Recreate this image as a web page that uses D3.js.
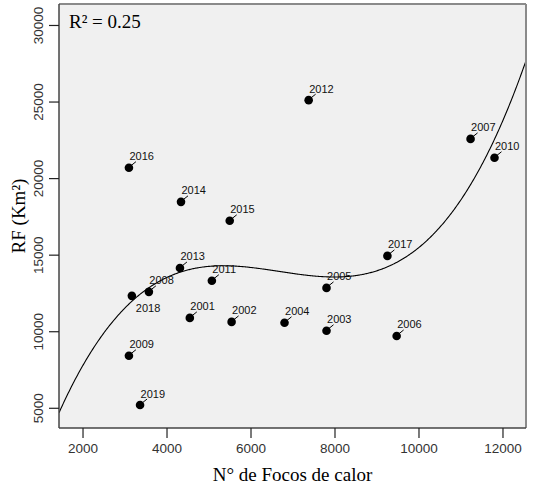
<!DOCTYPE html>
<html><head><meta charset="utf-8">
<script src="https://cdn.jsdelivr.net/npm/d3@7"></script>
<style>body{margin:0;background:#fff;}</style>
</head><body>
<svg id="c" width="536" height="489"></svg>
<script>
const years = ["2001","2002","2003","2004","2005","2006","2007","2008","2009","2010","2011","2012","2013","2014","2015","2016","2017","2018","2019"];
const focos = [4555, 5550, 7810, 6810, 7810, 9480, 11240, 3580, 3105, 11810, 5080, 7385, 4320, 4345, 5505, 3105, 9260, 3175, 3370];
const rf    = [10870, 10610, 10030, 10550, 12830, 9690, 22560, 12570, 8400, 21330, 13300, 25090, 14130, 18450, 17210, 20680, 14920, 12310, 5180];
const xTicks = [2000, 4000, 6000, 8000, 10000, 12000];
const yTicks = [5000, 10000, 15000, 20000, 25000, 30000];
const r2Label = "R\u00b2 = 0.25";
const xTitle = "N\u00b0 de Focos de calor";
const yTitle = "RF (Km\u00b2)";
const belowLabels = ["2018"];

const L = 59, R = 526, T = 4, B = 428;
const x = d3.scaleLinear().domain([1440, 12560]).range([L, R]);
const y = d3.scaleLinear().domain([3680, 31370]).range([B, T]);
const svg = d3.select("#c");

svg.append("rect").attr("x", L).attr("y", T).attr("width", R - L).attr("height", B - T).attr("fill", "#f0f0f0");

// cubic least squares fit from the data
function cubicFit(xs, ys) {
  const c = 6000, s = 1000, n = 4;
  const A = Array.from({length: n}, () => new Array(n + 1).fill(0));
  xs.forEach((xv, i) => {
    const t = (xv - c) / s;
    const p = [1, t, t * t, t * t * t];
    for (let a = 0; a < n; a++) {
      for (let b = 0; b < n; b++) A[a][b] += p[a] * p[b];
      A[a][n] += p[a] * ys[i];
    }
  });
  for (let i = 0; i < n; i++) {
    let m = i;
    for (let k = i + 1; k < n; k++) if (Math.abs(A[k][i]) > Math.abs(A[m][i])) m = k;
    [A[i], A[m]] = [A[m], A[i]];
    for (let k = 0; k < n; k++) if (k !== i) {
      const f = A[k][i] / A[i][i];
      for (let j = i; j <= n; j++) A[k][j] -= f * A[i][j];
    }
  }
  const co = A.map((row, i) => row[n] / row[i]);
  return xv => { const t = (xv - c) / s; return co[0] + co[1] * t + co[2] * t * t + co[3] * t * t * t; };
}
const fit = cubicFit(focos, rf);
const curveX = d3.range(x.domain()[0], x.domain()[1] + 1, 20);

svg.append("clipPath").attr("id", "clip").append("rect")
  .attr("x", L).attr("y", T).attr("width", R - L).attr("height", B - T);
svg.append("path")
  .attr("clip-path", "url(#clip)")
  .attr("d", d3.line().x(d => x(d)).y(d => y(fit(d)))(curveX))
  .attr("fill", "none").attr("stroke", "#000").attr("stroke-width", 1.1);

// frame
svg.append("line").attr("x1", L).attr("x2", R).attr("y1", T).attr("y2", T).attr("stroke", "#8a8a8a").attr("stroke-width", 2);
svg.append("line").attr("x1", R).attr("x2", R).attr("y1", T).attr("y2", B).attr("stroke", "#8a8a8a").attr("stroke-width", 2);

// axes
const xAxis = svg.append("g").attr("transform", `translate(0,${B})`)
  .call(d3.axisBottom(x).tickValues(xTicks).tickSize(10).tickSizeOuter(0).tickFormat(d3.format("d")));
const yAxis = svg.append("g").attr("transform", `translate(${L},0)`)
  .call(d3.axisLeft(y).tickValues(yTicks).tickSize(10).tickSizeOuter(0).tickFormat(d3.format("d")));
[xAxis, yAxis].forEach(g => {
  g.select(".domain").attr("stroke", "#444").attr("stroke-width", 1.5);
  g.selectAll(".tick line").attr("stroke", "#222").attr("stroke-width", 1.2);
  g.selectAll("text").attr("font-family", "Liberation Sans, Arial, sans-serif").attr("font-size", 13.5).attr("fill", "#333");
});
xAxis.selectAll(".domain").attr("d", `M${L},0H${R}`);
yAxis.selectAll(".domain").attr("d", `M0,${B}V${T}`);
xAxis.selectAll(".tick text").attr("y", 15).attr("dy", "0.71em");
yAxis.selectAll(".tick text")
  .attr("transform", "rotate(-90)")
  .attr("x", 0).attr("y", -16).attr("dy", 0)
  .attr("text-anchor", "middle");

// points
const pts = years.map((yr, i) => ({yr, fx: focos[i], ry: rf[i]}));
const g = svg.append("g");
pts.forEach(p => {
  const px = x(p.fx), py = y(p.ry);
  const below = belowLabels.includes(p.yr);
  if (!below) {
    g.append("line").attr("x1", px + 2).attr("y1", py - 2).attr("x2", px + 7).attr("y2", py - 6)
      .attr("stroke", "#000").attr("stroke-width", 1);
  }
  g.append("circle").attr("cx", px).attr("cy", py).attr("r", 4.3).attr("fill", "#000");
  g.append("text")
    .attr("x", below ? px + 4 : px + 0.5)
    .attr("y", below ? py + 16 : py - 7.5)
    .attr("font-family", "Liberation Sans, Arial, sans-serif")
    .attr("font-size", 11).attr("fill", "#111")
    .text(p.yr);
});

svg.append("text").attr("x", 69).attr("y", 28)
  .attr("font-family", "Liberation Serif, Times New Roman, serif").attr("font-size", 19).attr("fill", "#000")
  .text(r2Label);
svg.append("text").attr("x", (L + R) / 2).attr("y", 481).attr("text-anchor", "middle")
  .attr("font-family", "Liberation Serif, Times New Roman, serif").attr("font-size", 19).attr("fill", "#000")
  .text(xTitle);
svg.append("text").attr("transform", `translate(25,${(T + B) / 2}) rotate(-90)`).attr("text-anchor", "middle")
  .attr("font-family", "Liberation Serif, Times New Roman, serif").attr("font-size", 19).attr("fill", "#000")
  .text(yTitle);
</script>
</body></html>
